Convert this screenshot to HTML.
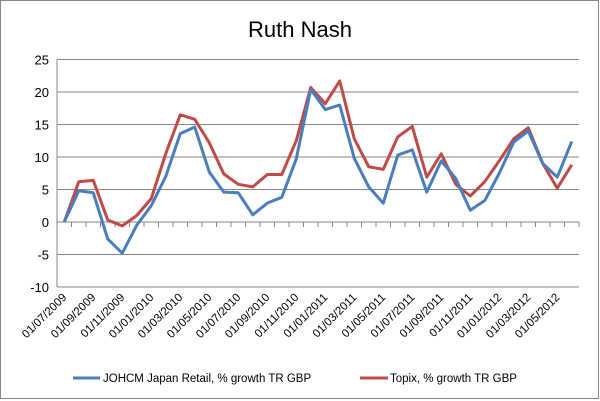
<!DOCTYPE html>
<html><head><meta charset="utf-8"><style>
body{margin:0;background:#fff;}
svg{display:block;font-family:"Liberation Sans",Calibri,sans-serif;}
</style></head><body>
<svg id="chart" width="600" height="401">
<rect x="0.5" y="0.5" width="598" height="398" fill="#fff" stroke="#868686"/>
<text x="300" y="37" text-anchor="middle" font-size="22" fill="#000">Ruth Nash</text>
<g id="grid"></g><g id="yaxis"></g><g id="xaxis"></g><g id="series"></g>
<g>
<g>
<line x1="73" y1="378" x2="100" y2="378" stroke="#4a7ebb" stroke-width="3"/>
<text x="103" y="382" font-size="11.5" fill="#000">JOHCM Japan Retail, % growth TR GBP</text></g>
<g>
<line x1="360" y1="378" x2="388" y2="378" stroke="#be4b48" stroke-width="3"/>
<text x="390" y="382" font-size="11.5" fill="#000">Topix, % growth TR GBP</text></g>
</g>
</svg>
<script>
const categories=["01/07/2009","01/08/2009","01/09/2009","01/10/2009","01/11/2009","01/12/2009","01/01/2010","01/02/2010","01/03/2010","01/04/2010","01/05/2010","01/06/2010","01/07/2010","01/08/2010","01/09/2010","01/10/2010","01/11/2010","01/12/2010","01/01/2011","01/02/2011","01/03/2011","01/04/2011","01/05/2011","01/06/2011","01/07/2011","01/08/2011","01/09/2011","01/10/2011","01/11/2011","01/12/2011","01/01/2012","01/02/2012","01/03/2012","01/04/2012","01/05/2012","01/06/2012"];
const johcmValues=[0,4.8,4.5,-2.6,-4.8,-0.5,2.5,7.0,13.6,14.6,7.7,4.6,4.5,1.1,2.9,3.8,9.7,20.4,17.3,18.0,9.8,5.4,2.9,10.3,11.1,4.6,9.4,6.7,1.8,3.3,7.5,12.3,14.0,9.0,6.9,12.4];
const topixValues=[0,6.2,6.4,0.3,-0.6,1.0,3.6,10.5,16.5,15.8,12.2,7.4,5.8,5.4,7.3,7.3,12.5,20.7,18.2,21.7,12.8,8.5,8.1,13.1,14.7,6.9,10.5,5.8,4.0,6.2,9.4,12.8,14.5,9.0,5.2,8.8];
const yTicks=[-10,-5,0,5,10,15,20,25];
const NS="http://www.w3.org/2000/svg";
const L=57,R=579,T=59.5,B=287,yMin=-10,yMax=25;
const n=categories.length,step=(R-L)/n;
function x(i){return L+step*(i+0.5);}
function y(v){return B-(v-yMin)/(yMax-yMin)*(B-T);}
function mk(tag,attrs,parent){const e=document.createElementNS(NS,tag);for(const k in attrs)e.setAttribute(k,attrs[k]);parent.appendChild(e);return e;}
const grid=document.getElementById('grid'),ya=document.getElementById('yaxis'),xa=document.getElementById('xaxis'),se=document.getElementById('series');
yTicks.forEach(t=>{
 const g=mk('line',{x1:L,x2:R,y1:y(t),y2:y(t),stroke:'#868686','stroke-width':1},grid);
 
 
 const tx=mk('text',{x:L-8,y:y(t)+5,'text-anchor':'end','font-size':13,fill:'#000'},ya);
 tx.textContent=t;
 
 
});
const ax=mk('line',{x1:L,x2:L,y1:T,y2:B,stroke:'#868686'},ya);


for(let i=0;i<=n;i++){
 const tk=mk('line',{x1:L+step*i,x2:L+step*i,y1:y(0),y2:y(0)+5,stroke:'#868686'},xa);
 
 
}
categories.forEach((c,i)=>{
 if(i%2)return;
 const px=x(i)+3,py=298;
 const t=mk('text',{x:px,y:py,'text-anchor':'end','font-size':11.5,fill:'#000',transform:`rotate(-45 ${px} ${py})`},xa);
 t.textContent=c;
 
 
});
function line(vals,color,name){
 const p=mk('polyline',{points:vals.map((v,i)=>x(i)+','+y(v)).join(' '),fill:'none',stroke:color,'stroke-width':3,'stroke-linejoin':'round'},se);
 
 
}
line(topixValues,'#be4b48','topix-line');
line(johcmValues,'#4a7ebb','johcm-line');
</script>
</body></html>
